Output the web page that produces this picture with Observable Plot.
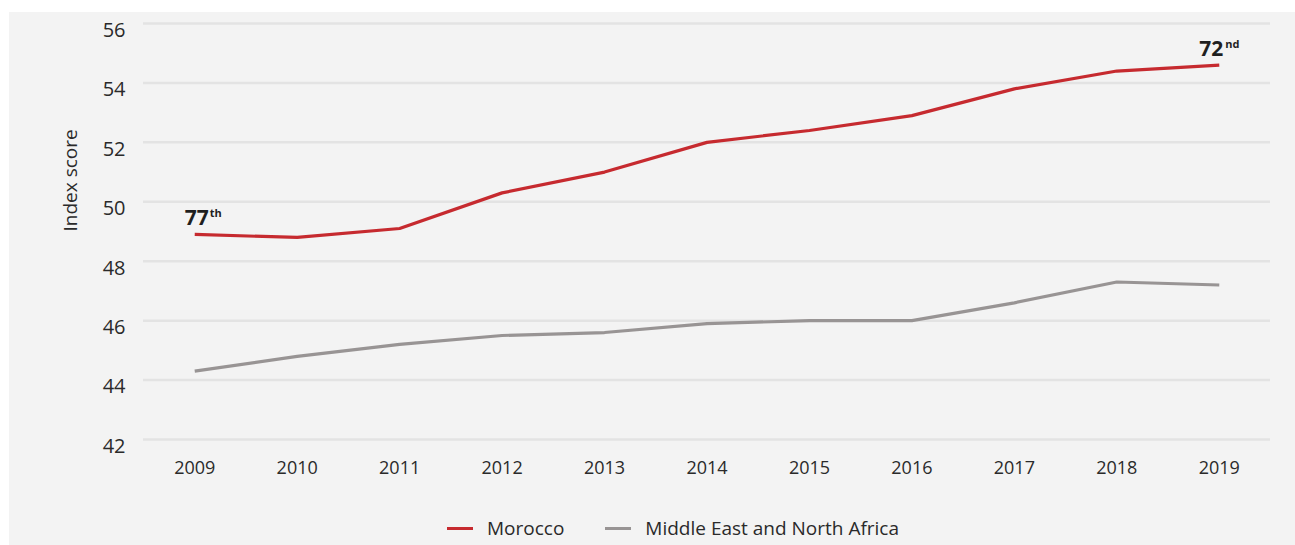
<!DOCTYPE html>
<html>
<head>
<meta charset="utf-8">
<script src="https://cdn.jsdelivr.net/npm/d3@7"></script>
<script src="https://cdn.jsdelivr.net/npm/@observablehq/plot@0.6"></script>
<style>
  html, body { margin: 0; padding: 0; background: #ffffff; overflow: hidden; }
  body { width: 1295px; height: 545px; position: relative; font-family: "Open Sans", "Noto Sans", sans-serif; }
  #bg { position: absolute; left: 9px; top: 12px; width: 1286px; height: 533px; background: #f3f3f3; }
  #chart { position: absolute; left: 0; top: 0; }
  #legend { position: absolute; left: 447px; top: 514px; height: 28px; display: flex; align-items: center; font-size: 19px; color: #2a2a2a; }
  .sw { width: 26px; height: 3px; display: inline-block; }
  .lab { margin-left: 14px; }
</style>
</head>
<body>
<div id="bg"></div>
<div id="chart"></div>
<div id="legend"></div>
<script>
const years = [2009, 2010, 2011, 2012, 2013, 2014, 2015, 2016, 2017, 2018, 2019];
const morocco = [48.9, 48.8, 49.1, 50.3, 51.0, 52.0, 52.4, 52.9, 53.8, 54.4, 54.6];
const mena = [44.3, 44.8, 45.2, 45.5, 45.6, 45.9, 46.0, 46.0, 46.6, 47.3, 47.2];
const seriesNames = ["Morocco", "Middle East and North Africa"];
const seriesColors = ["#c62a2f", "#989494"];
const yTicks = [42, 44, 46, 48, 50, 52, 54, 56];
const yLabel = "Index score";
const rankYears = [2009, 2019];
const rankNumbers = ["77", "72"];
const rankSuffixes = ["th", "nd"];

const rows = [];
years.forEach((yr, i) => {
  rows.push({year: yr, value: morocco[i], series: seriesNames[0]});
  rows.push({year: yr, value: mena[i], series: seriesNames[1]});
});
const ranks = rankYears.map((yr, i) => ({
  year: yr,
  value: morocco[years.indexOf(yr)],
  num: rankNumbers[i],
  suf: rankSuffixes[i]
}));

const textColor = "#2a2a2a";

const chart = Plot.plot({
  width: 1295,
  height: 505,
  marginLeft: 143,
  marginRight: 25,
  marginTop: 23,
  marginBottom: 66,
  style: {background: "transparent", fontFamily: "'Open Sans', 'Noto Sans', sans-serif", color: textColor},
  x: {type: "linear", domain: [2008.5, 2019.5]},
  y: {domain: [42, 56]},
  color: {domain: seriesNames, range: seriesColors},
  marks: [
    Plot.ruleY(yTicks, {stroke: "#e3e3e3", strokeWidth: 2.5}),
    Plot.axisY(yTicks, {tickSize: 0, tickPadding: 18, fontSize: 20, dy: 7, label: null, fill: textColor}),
    Plot.axisX(years, {tickSize: 0, tickPadding: 22, fontSize: 18, tickFormat: d => String(d), label: null, fill: textColor}),
    Plot.text([yLabel], {frameAnchor: "left", text: d => d, rotate: -90, dx: -67, lineAnchor: "bottom", fontSize: 19, fill: textColor}),
    Plot.lineY(rows, {x: "year", y: "value", z: "series", stroke: "series", strokeWidth: 3.2, strokeLinecap: "butt", strokeLinejoin: "miter"}),
    Plot.text(ranks.filter(d => d.year === rankYears[0]), {x: "year", y: "value", text: "num", textAnchor: "end", lineAnchor: "bottom", dx: 14, dy: -9, fontSize: 21, fontWeight: "bold", fill: "#1f1f1f"}),
    Plot.text(ranks.filter(d => d.year === rankYears[0]), {x: "year", y: "value", text: "suf", textAnchor: "start", lineAnchor: "bottom", dx: 15, dy: -17, fontSize: 11, fontWeight: "bold", fill: "#1f1f1f"}),
    Plot.text(ranks.filter(d => d.year === rankYears[1]), {x: "year", y: "value", text: "num", textAnchor: "end", lineAnchor: "bottom", dx: 4, dy: -9, fontSize: 21, fontWeight: "bold", fill: "#1f1f1f"}),
    Plot.text(ranks.filter(d => d.year === rankYears[1]), {x: "year", y: "value", text: "suf", textAnchor: "start", lineAnchor: "bottom", dx: 6, dy: -17, fontSize: 11, fontWeight: "bold", fill: "#1f1f1f"})
  ]
});
document.getElementById("chart").appendChild(chart);

const legend = document.getElementById("legend");
seriesNames.forEach((name, i) => {
  const sw = document.createElement("span");
  sw.className = "sw";
  sw.style.background = seriesColors[i];
  if (i > 0) sw.style.marginLeft = "41px";
  const lab = document.createElement("span");
  lab.className = "lab";
  lab.textContent = name;
  legend.appendChild(sw);
  legend.appendChild(lab);
});
</script>
</body>
</html>
